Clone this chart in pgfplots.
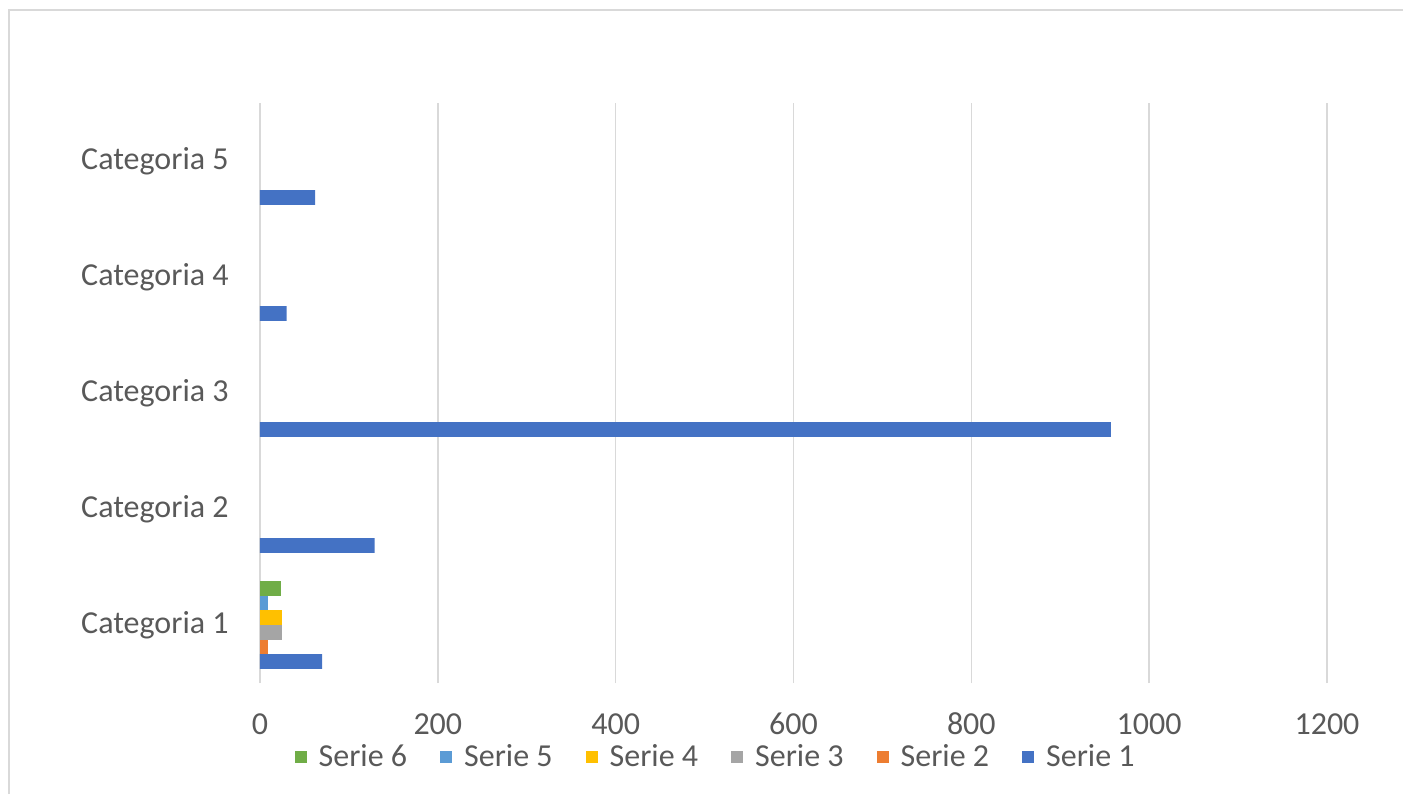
\documentclass[border=0pt]{standalone}
\usepackage{pgfplots}
\pgfplotsset{compat=1.18}
\usepackage{fontspec}
\setmainfont{Carlito}
\definecolor{s1}{HTML}{4472C4}
\definecolor{s2}{HTML}{ED7D31}
\definecolor{s3}{HTML}{A5A5A5}
\definecolor{s4}{HTML}{FFC000}
\definecolor{s5}{HTML}{5B9BD5}
\definecolor{s6}{HTML}{70AD47}
\definecolor{txt}{HTML}{595959}
\definecolor{grd}{HTML}{D9D9D9}
\begin{document}
\begin{tikzpicture}
\useasboundingbox (0,0) rectangle (701.5pt,397pt);
\draw[grd, line width=0.75pt] (4.5pt,0pt) -- (4.5pt,392pt) -- (701.5pt,392pt);
\begin{axis}[
  at={(130pt,55.5pt)}, anchor=south west,
  scale only axis, width=533.5pt, height=290pt,
  xbar=0pt, bar width=7.3pt,
  xmin=0, xmax=1200, ymin=0.5, ymax=5.5,
  xtick={0,200,...,1200},
  ytick={1,2,3,4,5},
  yticklabels={Categoria 1,Categoria 2,Categoria 3,Categoria 4,Categoria 5},
  major tick length=0pt,
  axis line style={draw=none},
  xmajorgrids, major grid style={grd, line width=0.75pt},
  font=\fontsize{16}{18}\selectfont,
  tick label style={text=txt},
  /pgf/number format/assume math mode=true,
  /pgf/number format/1000 sep={},
  xticklabel style={anchor=center, inner sep=0pt, yshift=-20.5pt},
  yticklabel style={anchor=east, inner sep=0pt, xshift=-15.5pt},
  legend style={at={(0.428,-0.128)}, anchor=center, draw=none, fill=none,
    legend columns=-1, font=\fontsize{16}{18}\selectfont, text=txt,
    /tikz/every even column/.append style={column sep=14.5pt},
    /tikz/every odd column/.append style={column sep=4pt}},
  legend image code/.code={\fill[#1,draw=none] (0pt,-3pt) rectangle (6pt,3pt);},
]
\addlegendimage{fill=s6,draw=none}
\addlegendimage{fill=s5,draw=none}
\addlegendimage{fill=s4,draw=none}
\addlegendimage{fill=s3,draw=none}
\addlegendimage{fill=s2,draw=none}
\addlegendimage{fill=s1,draw=none}
\addplot[fill=s1, draw=none] coordinates {(70,1) (129,2) (957,3) (30,4) (62,5)};
\addplot[fill=s2, draw=none] coordinates {(9,1)};
\addplot[fill=s3, draw=none] coordinates {(25,1)};
\addplot[fill=s4, draw=none] coordinates {(25,1)};
\addplot[fill=s5, draw=none] coordinates {(9,1)};
\addplot[fill=s6, draw=none] coordinates {(24,1)};
\legend{Serie 6,Serie 5,Serie 4,Serie 3,Serie 2,Serie 1}
\end{axis}
\end{tikzpicture}
\end{document}
